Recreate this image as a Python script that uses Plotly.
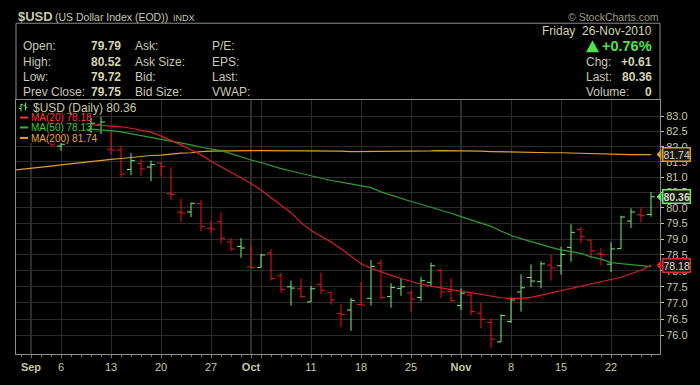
import math
import plotly.graph_objects as go

# ---------------- data ----------------
dates = ["Aug 30", "Aug 31",
         "Sep 01", "Sep 02", "Sep 03", "Sep 06", "Sep 07", "Sep 08", "Sep 09", "Sep 10",
         "Sep 13", "Sep 14", "Sep 15", "Sep 16", "Sep 17", "Sep 20", "Sep 21", "Sep 22",
         "Sep 23", "Sep 24", "Sep 27", "Sep 28", "Sep 29", "Sep 30",
         "Oct 01", "Oct 04", "Oct 05", "Oct 06", "Oct 07", "Oct 08", "Oct 11", "Oct 12",
         "Oct 13", "Oct 14", "Oct 15", "Oct 18", "Oct 19", "Oct 20", "Oct 21", "Oct 22",
         "Oct 25", "Oct 26", "Oct 27", "Oct 28", "Oct 29",
         "Nov 01", "Nov 02", "Nov 03", "Nov 04", "Nov 05", "Nov 08", "Nov 09", "Nov 10",
         "Nov 11", "Nov 12", "Nov 15", "Nov 16", "Nov 17", "Nov 18", "Nov 19", "Nov 22",
         "Nov 23", "Nov 24", "Nov 25", "Nov 26"]

opens = [82.90, 83.15,
         83.10, 82.50, 82.40, 82.02, 82.30, 82.65, 82.58, 82.72, 81.92, 81.89, 81.25, 81.44,
         81.33, 81.46, 80.47, 79.87, 79.87, 80.14, 79.35, 79.56, 78.91, 78.77,
         78.12, 78.11, 78.56, 77.84, 77.50, 77.44, 77.03, 77.57, 77.33, 76.67, 76.78, 76.95,
         77.14, 78.24, 77.20, 77.45, 77.31, 77.17, 77.64, 78.01, 77.36,
         76.92, 77.24, 76.68, 76.39, 75.80, 76.42, 77.34, 77.79, 77.66, 78.18, 78.16, 78.74,
         79.31, 78.97, 78.54, 78.21, 78.70, 79.58, 79.78, 79.79]
highs = [83.30, 83.35,
         83.20, 82.75, 82.50, 82.14, 82.75, 82.95, 82.95, 83.00, 82.50, 82.03, 81.79, 81.59,
         81.54, 81.48, 81.32, 80.30, 80.17, 80.25, 79.59, 79.85, 79.03, 79.03,
         78.81, 78.54, 78.69, 77.94, 77.69, 77.76, 77.53, 77.94, 77.35, 76.96, 77.15, 77.66,
         78.34, 78.36, 77.61, 77.76, 77.37, 77.81, 78.26, 78.06, 77.76,
         77.44, 77.32, 77.00, 76.52, 76.65, 77.17, 77.89, 78.20, 78.30, 78.50, 78.76, 79.48,
         79.39, 78.99, 78.72, 78.91, 79.75, 79.99, 80.02, 80.52]
lows = [82.70, 82.60,
        82.40, 82.35, 82.03, 81.87, 82.25, 82.40, 82.46, 82.42, 81.75, 81.01, 81.07, 81.04,
        80.87, 81.02, 80.25, 79.54, 79.71, 79.26, 79.19, 78.86, 78.63, 78.41,
        78.08, 78.11, 77.69, 77.32, 76.91, 77.14, 77.03, 77.27, 76.94, 76.26, 76.14, 76.92,
        76.92, 77.10, 76.85, 77.22, 76.73, 77.05, 77.53, 77.15, 77.03,
        76.78, 76.61, 76.21, 75.61, 75.79, 76.39, 76.73, 77.50, 77.45, 77.69, 77.88, 78.29,
        78.86, 78.39, 78.16, 77.96, 78.70, 79.36, 79.54, 79.72]
closes = [83.15, 82.75,
          82.50, 82.45, 82.06, 82.08, 82.65, 82.60, 82.78, 82.82, 81.89, 81.10, 81.54, 81.27,
          81.41, 81.35, 80.44, 79.84, 80.15, 79.41, 79.32, 79.03, 78.69, 78.72,
          78.10, 78.50, 77.76, 77.42, 77.46, 77.20, 77.44, 77.39, 77.09, 76.64, 77.07, 76.93,
          78.14, 77.17, 77.48, 77.50, 77.12, 77.69, 78.16, 77.34, 77.07,
          77.30, 76.73, 76.49, 75.88, 76.61, 77.09, 77.47, 77.68, 78.22, 78.09, 78.52, 79.22,
          79.08, 78.63, 78.51, 78.69, 79.71, 79.87, 79.75, 80.36]

ma20 = [None] * 8 + [
    82.73, 82.71, 82.69, 82.66, 82.61, 82.55, 82.48, 82.35, 82.21, 82.06, 81.90, 81.73,
    81.52, 81.34, 81.15, 80.96,
    80.79, 80.58, 80.32, 80.09, 79.85, 79.53, 79.28, 79.10, 78.91, 78.70, 78.46, 78.22,
    78.08, 77.96, 77.86, 77.76, 77.66, 77.58, 77.52, 77.46, 77.41,
    77.36, 77.32, 77.27, 77.21, 77.16, 77.14, 77.14, 77.17, 77.24, 77.31, 77.37, 77.43,
    77.50, 77.58, 77.65, 77.71, 77.80, 77.91, 78.02, 78.18]
ma50 = [None] * 8 + [
    82.58, 82.56, 82.53, 82.49, 82.43, 82.37, 82.29, 82.23, 82.17, 82.12, 82.06, 81.98,
    81.92, 81.87, 81.77, 81.66,
    81.56, 81.48, 81.37, 81.28, 81.20, 81.12, 81.04, 80.97, 80.89, 80.84, 80.78, 80.72,
    80.66, 80.52, 80.41, 80.32, 80.21, 80.12, 80.03, 79.94, 79.83,
    79.72, 79.62, 79.53, 79.41, 79.26, 79.12, 79.02, 78.92, 78.83, 78.74, 78.66, 78.61,
    78.55, 78.44, 78.37, 78.26, 78.23, 78.19, 78.16, 78.13]
ma200 = [81.22, 81.25,
         81.28, 81.33, 81.36, 81.40, 81.44, 81.47, 81.51, 81.55, 81.58, 81.61, 81.65, 81.68,
         81.71, 81.72, 81.76, 81.79, 81.80, 81.84, 81.85, 81.86, 81.87, 81.87,
         81.87, 81.87, 81.87, 81.87, 81.87, 81.87, 81.87, 81.87, 81.86, 81.85, 81.84, 81.84,
         81.84, 81.84, 81.84, 81.84, 81.84, 81.85, 81.86, 81.87, 81.87,
         81.87, 81.86, 81.85, 81.84, 81.83, 81.82, 81.82, 81.81, 81.81, 81.80, 81.80, 81.79,
         81.78, 81.76, 81.75, 81.75, 81.75, 81.74, 81.74, 81.74]

y_tick_values = [76.0, 76.5, 77.0, 77.5, 78.0, 78.5, 79.0, 79.5, 80.0, 80.5,
                 81.0, 81.5, 82.0, 82.5, 83.0]
x_tick_dates = ["Sep 01", "Sep 06", "Sep 13", "Sep 20", "Sep 27", "Oct 01", "Oct 04",
                "Oct 11", "Oct 18", "Oct 25", "Nov 01", "Nov 08", "Nov 15", "Nov 22"]
x_tick_labels = ["<b>Sep</b>", "6", "13", "20", "27", "<b>Oct</b>", "",
                 "11", "18", "25", "<b>Nov</b>", "8", "15", "22"]
month_start_dates = ["Sep 01", "Oct 01", "Nov 01"]

header_rows = [("Open:", "79.79", "Ask:", "P/E:"),
               ("High:", "80.52", "Ask Size:", "EPS:"),
               ("Low:", "79.72", "Bid:", "Last:"),
               ("Prev Close:", "79.75", "Bid Size:", "VWAP:")]
quote_date = "Friday\u00a0\u00a026-Nov-2010"
pct_change = "+0.76%"
chg = "+0.61"
last = "80.36"
volume = "0"

# ---------------- layout geometry ----------------
W, H = 700, 385
ML, MR, MT, MB = 16, 40, 100, 17
PW, PH = W - ML - MR, H - MT - MB
X_RANGE = [0.5, 64.9]
Y_RANGE = [1.877549, 1.921979]


def xp(px):
    return (px - ML) / PW


def yp(py):
    return (H - MB - py) / PH


def ypx(v):
    return MT + (Y_RANGE[1] - math.log10(v)) / (Y_RANGE[1] - Y_RANGE[0]) * PH


FONT = "Liberation Sans, Arial, sans-serif"
LBL = "#c8c8b8"
VAL = "#d4d4b0"
TAN = "#c8c8a4"
GRID = "#2c2c2c"
BORDER = "#8c8c8c"
BAR_UP = "#77f077"
BAR_DN = "#f01414"
C20 = "#d82020"
C50 = "#2e9e2e"
C200 = "#e0a020"

xs = list(range(len(dates)))
idx = {d: i for i, d in enumerate(dates)}

up, dn = [], []
for i in xs:
    prev = closes[i - 1] if i > 0 else opens[i]
    (up if closes[i] > prev else dn).append(i)

fig = go.Figure()
for group, col in ((up, BAR_UP), (dn, BAR_DN)):
    fig.add_trace(go.Ohlc(
        x=[xs[i] for i in group],
        open=[opens[i] for i in group], high=[highs[i] for i in group],
        low=[lows[i] for i in group], close=[closes[i] for i in group],
        increasing=dict(line=dict(color=col, width=1)),
        decreasing=dict(line=dict(color=col, width=1)),
        line=dict(width=1), tickwidth=0.4, hoverinfo="skip"))

for vals, col in ((ma200, C200), (ma50, C50), (ma20, C20)):
    fig.add_trace(go.Scatter(x=xs, y=vals, mode="lines",
                             line=dict(color=col, width=1.2), hoverinfo="skip"))

shapes = []
# month separators (brighter grid)
for d in month_start_dates:
    shapes.append(dict(type="line", xref="x", yref="paper", x0=idx[d], x1=idx[d],
                       y0=0, y1=1, line=dict(color="#5a5a5a", width=1), layer="between"))
# header box
hb = yp(19)
shapes += [
    dict(type="line", xref="paper", yref="paper", x0=0, x1=1, y0=hb, y1=hb,
         line=dict(color=BORDER, width=1)),
    dict(type="line", xref="paper", yref="paper", x0=0, x1=0, y0=1, y1=hb,
         line=dict(color=BORDER, width=1)),
    dict(type="line", xref="paper", yref="paper", x0=1, x1=1, y0=1, y1=hb,
         line=dict(color=BORDER, width=1)),
]
# legend background
shapes.append(dict(type="rect", xref="paper", yref="paper", x0=0.001, x1=xp(88.5),
                   y0=yp(145.5), y1=0.998, fillcolor="black", line=dict(width=0),
                   layer="above"))
# legend line samples
for py, col in ((118.5, "#ff3030"), (129, "#33bb33"), (140, "#e8a020")):
    shapes.append(dict(type="line", xref="paper", yref="paper", x0=xp(20), x1=xp(28),
                       y0=yp(py), y1=yp(py), line=dict(color=col, width=2), layer="above"))
# legend icon (tiny bars)
for bx, y0, y1, t1, t2, col in ((21, 104, 112, 109, 105, "#66ee66"),
                                (25.5, 103, 111, 106, 108, "#66ee66")):
    shapes.append(dict(type="line", xref="paper", yref="paper", x0=xp(bx), x1=xp(bx),
                       y0=yp(y0), y1=yp(y1), line=dict(color=col, width=1), layer="above"))
    shapes.append(dict(type="line", xref="paper", yref="paper", x0=xp(bx - 2), x1=xp(bx),
                       y0=yp(t1), y1=yp(t1), line=dict(color=col, width=1), layer="above"))
    shapes.append(dict(type="line", xref="paper", yref="paper", x0=xp(bx), x1=xp(bx + 2),
                       y0=yp(t2), y1=yp(t2), line=dict(color=col, width=1), layer="above"))
# up triangle in header
shapes.append(dict(type="path", xref="paper", yref="paper",
                   path=f"M {xp(586)},{yp(49.5)} L {xp(599)},{yp(49.5)} L {xp(592.5)},{yp(37)} Z",
                   fillcolor="#4ee44e", line=dict(width=0)))

annotations = []


def A(text, px, py, size=12, color=LBL, anchor="left", bold=False):
    if bold:
        text = f"<b>{text}</b>"
    annotations.append(dict(text=text, x=xp(px), y=yp(py), xref="paper", yref="paper",
                            xanchor=anchor, yanchor="middle", showarrow=False,
                            borderpad=0, font=dict(family=FONT, size=size, color=color)))


A("$USD", 16.5, 12, 13, TAN, bold=True)
A("(US Dollar Index (EOD))", 54, 12.5, 10.5, LBL)
A("INDX", 172, 13, 9, LBL)
A("© StockCharts.com", 659.5, 12, 10.5, "#9c9c84", "right")

for (l1, v1, l2, l3), py in zip(header_rows, (43.5, 59.5, 76, 92)):
    A(l1, 21.5, py)
    A(v1, 121.5, py, color=VAL, anchor="right", bold=True)
    A(l2, 134, py)
    A(l3, 211, py)

A(quote_date, 652.5, 27, color=VAL, anchor="right")
A(pct_change, 652.5, 43.5, 14.5, "#4ee44e", "right", bold=True)
A("Chg:", 585, 59.5)
A(chg, 652.5, 59.5, color=VAL, anchor="right", bold=True)
A("Last:", 585, 76)
A(last, 652.5, 76, color=VAL, anchor="right", bold=True)
A("Volume:", 585, 92)
A(volume, 652.5, 92, color=VAL, anchor="right", bold=True)

# in-chart legend
A(f"$USD (Daily) {closes[-1]:.2f}", 32, 108.5, 12, TAN)
A(f"MA(20) {ma20[-1]:.2f}", 29.5, 118.5, 10, "#ff3a3a")
A(f"MA(50) {ma50[-1]:.2f}", 29.5, 129.5, 10, "#3ccc3c")
A(f"MA(200) {ma200[-1]:.2f}", 29.5, 140.5, 10, "#e8a830")

# right-side value tags
for v, col, bold in ((ma200[-1], "#e0a020", False), (closes[-1], "#66ee66", True),
                     (ma20[-1], "#e02828", False)):
    yc = ypx(v)
    shapes.append(dict(type="path", xref="paper", yref="paper",
                       path=f"M {xp(656.5)},{yp(yc)} L {xp(661.5)},{yp(yc - 5.5)} "
                            f"L {xp(661.5)},{yp(yc + 5.5)} Z",
                       fillcolor=col, line=dict(width=0)))
    t = f"{v:.2f}"
    annotations.append(dict(text=f"<b>{t}</b>" if bold else t, x=xp(661.5), y=yp(yc),
                            xref="paper", yref="paper", xanchor="left", yanchor="middle",
                            showarrow=False, bgcolor="#151515", bordercolor=col,
                            borderwidth=1.5, borderpad=0,
                            font=dict(family=FONT, size=10.5, color="#dcdcc4")))

fig.update_layout(
    width=W, height=H, margin=dict(l=ML, r=MR, t=MT, b=MB),
    paper_bgcolor="black", plot_bgcolor="black", showlegend=False,
    font=dict(family=FONT, color=TAN),
    xaxis=dict(range=X_RANGE, tickvals=[idx[d] for d in x_tick_dates],
               ticktext=x_tick_labels, showgrid=True, gridcolor=GRID, gridwidth=1,
               ticks="outside", ticklen=3, tickcolor="#777777",
               tickfont=dict(family=FONT, size=11, color=TAN),
               showline=True, linecolor=BORDER, linewidth=1, mirror=True,
               zeroline=False, rangeslider=dict(visible=False), fixedrange=True,
               minor=dict(dtick=1, tick0=0, ticks="outside", ticklen=2,
                          tickcolor="#777777", showgrid=False)),
    yaxis=dict(type="log", range=Y_RANGE, side="right",
               tickvals=y_tick_values, ticktext=[f"{v:.1f}" for v in y_tick_values],
               showgrid=True, gridcolor=GRID, gridwidth=1,
               ticks="outside", ticklen=3, tickcolor=TAN,
               tickfont=dict(family=FONT, size=11, color=TAN),
               showline=True, linecolor=BORDER, linewidth=1, mirror=True,
               zeroline=False, fixedrange=True),
    shapes=shapes, annotations=annotations,
)

fig.write_html("out.html",
               config={"displayModeBar": False},
               post_script="document.body.style.margin='0px';"
                           "document.body.style.background='black';")
